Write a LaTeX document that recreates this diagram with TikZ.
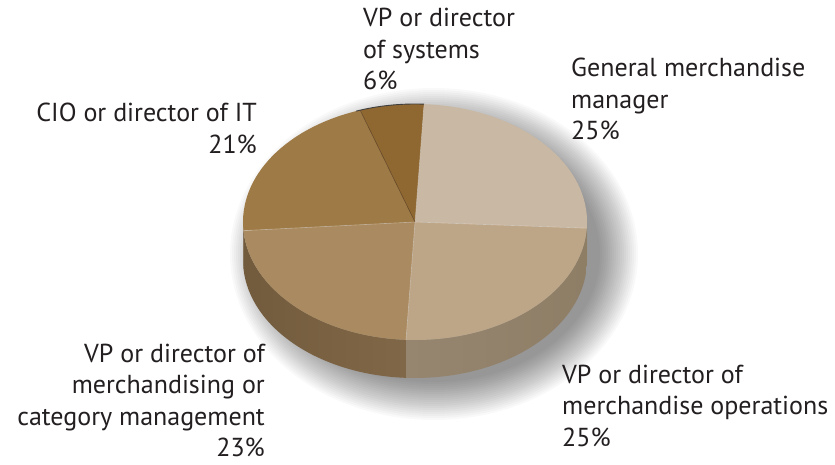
\documentclass[tikz,border=0pt]{standalone}
\usepackage{fontspec}
\setmainfont{PT Sans}
\definecolor{txt}{RGB}{35,31,32}
\definecolor{cGM}{RGB}{201,184,163}
\definecolor{cOps}{RGB}{189,165,135}
\definecolor{cMer}{RGB}{170,138,96}
\definecolor{cCio}{RGB}{158,122,71}
\definecolor{cSys}{RGB}{143,103,49}
\definecolor{sMerL}{RGB}{114,91,61}
\definecolor{sMerR}{RGB}{128,103,71}
\definecolor{sOpsL}{RGB}{150,134,112}
\definecolor{sOpsR}{RGB}{142,126,102}
\definecolor{sCio}{RGB}{112,88,58}
\definecolor{sGM}{RGB}{150,136,116}
\newcommand\pcx{415}
\newcommand\pcy{242}
\newcommand\prx{172}
\newcommand\pry{118}
\newcommand\pdd{38}
\newcommand\sideseg[3]{%
  \shade[#3] ({\pcx+\prx*cos(#1)},{\pcy+\pry*sin(#1)}) -- ({\pcx+\prx*cos(#1)},{\pcy-\pdd+\pry*sin(#1)})
    arc[start angle=#1,end angle=#2,x radius=\prx,y radius=\pry]
    -- ({\pcx+\prx*cos(#2)},{\pcy+\pry*sin(#2)})
    arc[start angle=#2,end angle=#1,x radius=\prx,y radius=\pry] -- cycle;}
\newcommand\pieslice[3]{%
  \fill[#3] (c) -- ({\pcx+\prx*cos(#1)},{\pcy+\pry*sin(#1)})
    arc[start angle=#1,end angle=#2,x radius=\prx,y radius=\pry] -- cycle;}
\tikzset{
  lbl/.style={inner sep=0pt, text=txt, font=\fontsize{26}{31.5}\selectfont},
  edge/.style={draw=white, draw opacity=0.35, line width=0.6pt}
}
\begin{document}
\begin{tikzpicture}[x=1pt,y=1pt]
\useasboundingbox (0,0) rectangle (835,464);
\fill[white] (0,0) rectangle (835,464);
\coordinate (c) at (\pcx,\pcy);
% soft shadow
\foreach \i in {0,...,19}{
  \fill[black,opacity=0.022] (434,210) ellipse[x radius={204-2*\i}, y radius={166-2*\i}];
}
% side
\sideseg{180}{184.2}{left color=sCio,right color=sCio}
\sideseg{184.2}{267}{left color=sMerL,right color=sMerR}
\sideseg{267}{357}{left color=sOpsL,right color=sOpsR}
\sideseg{357}{360}{left color=sGM,right color=sGM}
% top
\pieslice{87}{-3}{cGM}
\pieslice{-3}{-93}{cOps}
\pieslice{-93}{-175.8}{cMer}
\pieslice{-175.8}{-251.4}{cCio}
\pieslice{-251.4}{-273}{cSys}
\foreach \a in {87,-3,-93,-175.8}{
  \draw[edge] (c) -- ({\pcx+\prx*cos(\a)},{\pcy+\pry*sin(\a)});
}
\draw[draw=black!60!brown, line width=0.5pt, opacity=0.7] (c) -- ({\pcx+\prx*cos(108.6)},{\pcy+\pry*sin(108.6)});
\draw[draw=black!75, line width=0.9pt] ({\pcx+\prx*cos(110)},{\pcy+\pry*sin(110)})
  arc[start angle=110,end angle=87,x radius=\prx,y radius=\pry];
% labels
\node[lbl, anchor=base west] (sys) at (363,437) {\begin{tabular}[t]{@{}l@{}}VP or director\\ of systems\\ 6\%\end{tabular}};
\node[lbl, anchor=base west] (gm) at (571,387) {\begin{tabular}[t]{@{}l@{}}General merchandise\\ manager\\ 25\%\end{tabular}};
\node[lbl, anchor=base east] (cio) at (257,342) {\begin{tabular}[t]{@{}r@{}}CIO or director of IT\\ 21\%\end{tabular}};
\node[lbl, anchor=base east] (mer) at (265,102) {\begin{tabular}[t]{@{}r@{}}VP or director of\\ merchandising or\\ category management\\ 23\%\end{tabular}};
\node[lbl, anchor=base west] (ops) at (562,81) {\begin{tabular}[t]{@{}l@{}}VP or director of\\ merchandise operations\\ 25\%\end{tabular}};
\end{tikzpicture}
\end{document}
